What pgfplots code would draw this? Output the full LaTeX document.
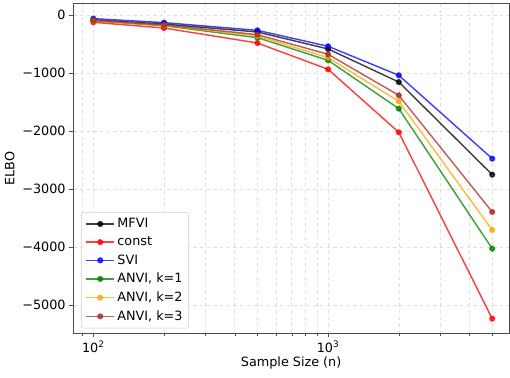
\documentclass[border=0pt]{standalone}
\usepackage{pgfplots}
\pgfplotsset{compat=1.18}
\usepackage{fontspec}
\setmainfont{DejaVu Sans}
\definecolor{cblk}{HTML}{000000}
\definecolor{cred}{HTML}{FF0000}
\definecolor{cblu}{HTML}{0000FF}
\definecolor{cgrn}{HTML}{008000}
\definecolor{corg}{HTML}{FFA500}
\definecolor{cbrn}{HTML}{A52A2A}
\begin{document}
\begin{tikzpicture}
\begin{axis}[
  scale only axis,
  width=392pt, height=297pt,
  xmode=log,
  xmin=82.2, xmax=5888,
  ymin=-5483, ymax=207,
  xtick={100,1000},
  xticklabels={10\textsuperscript{2},10\textsuperscript{3}},
  minor xtick={90,200,300,400,500,600,700,800,900,2000,3000,4000,5000},
  ytick={-5000,-4000,-3000,-2000,-1000,0},
  yticklabels={−5000,−4000,−3000,−2000,−1000,0},
  grid=both,
  major grid style={gray!25, dashed, line width=0.5pt},
  minor grid style={gray!25, dashed, line width=0.5pt},
  tick align=outside,
  tick pos=left,
  major tick length=3.5pt,
  minor tick length=2pt,
  tick style={black!70},
  axis line style={black!70},
  xlabel={Sample Size (n)},
  ylabel={ELBO},
  xlabel style={yshift=3pt},
  label style={font=\fontsize{11.5}{13}\selectfont},
  tick label style={font=\fontsize{11.5}{13}\selectfont},
  every axis plot/.append style={line width=1.3pt, mark=*, mark size=2.1pt, opacity=0.75},
  legend cell align=left,
  legend style={at={(0.018,0.015)}, anchor=south west, draw=gray!40, rounded corners=2pt, font=\fontsize{11.5}{13}\selectfont, row sep=2.6pt, inner sep=3.5pt},
  legend image code/.code={\draw[#1] (0cm,0cm) -- (0.45cm,0cm) plot coordinates {(0.45cm,0cm)} -- (0.9cm,0cm);},
]
\addplot[color=cblk] coordinates {(100,-80) (200,-150) (500,-287) (1000,-580) (2000,-1150) (5000,-2747)};
\addlegendentry{MFVI}
\addplot[color=cred] coordinates {(100,-120) (200,-219) (500,-477) (1000,-931) (2000,-2017) (5000,-5230)};
\addlegendentry{const}
\addplot[color=cblu] coordinates {(100,-57) (200,-126) (500,-259) (1000,-534) (2000,-1034) (5000,-2471)};
\addlegendentry{SVI}
\addplot[color=cgrn] coordinates {(100,-95) (200,-180) (500,-385) (1000,-776) (2000,-1609) (5000,-4023)};
\addlegendentry{ANVI, k=1}
\addplot[color=corg] coordinates {(100,-90) (200,-172) (500,-356) (1000,-730) (2000,-1483) (5000,-3701)};
\addlegendentry{ANVI, k=2}
\addplot[color=cbrn] coordinates {(100,-85) (200,-165) (500,-333) (1000,-672) (2000,-1379) (5000,-3391)};
\addlegendentry{ANVI, k=3}
\coordinate (SW) at (rel axis cs:0,0);
\coordinate (NE) at (rel axis cs:1,1);
\end{axis}
\pgfresetboundingbox
\path[use as bounding box] ([xshift=-66pt,yshift=-40pt]SW) rectangle ([xshift=1pt,yshift=3pt]NE);
\end{tikzpicture}
\end{document}
